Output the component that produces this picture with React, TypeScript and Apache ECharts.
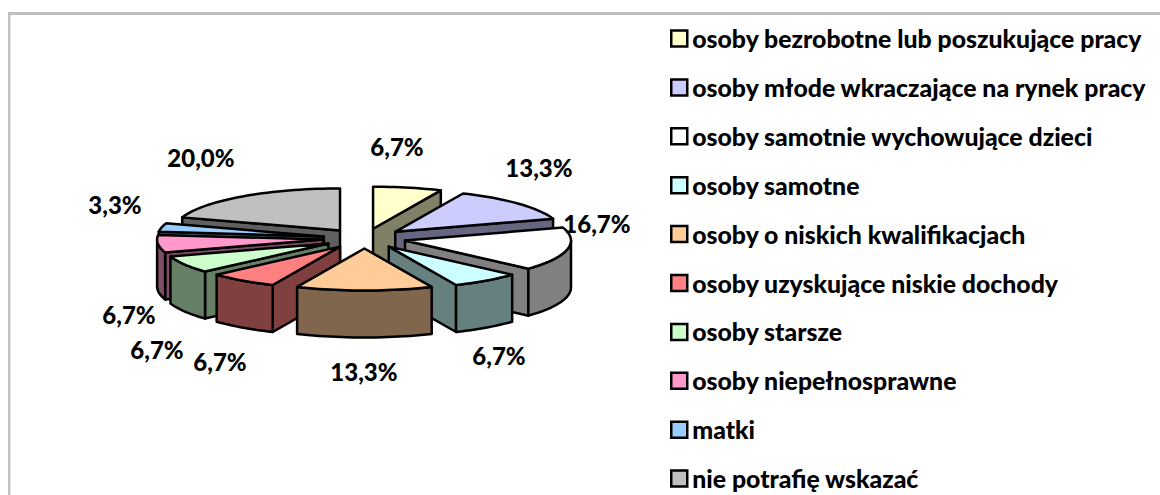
import React, { useEffect, useRef } from "react";
import * as echarts from "echarts";

const categories = [
  "osoby bezrobotne lub poszukujące pracy",
  "osoby młode wkraczające na rynek pracy",
  "osoby samotnie wychowujące dzieci",
  "osoby samotne",
  "osoby o niskich kwalifikacjach",
  "osoby uzyskujące niskie dochody",
  "osoby starsze",
  "osoby niepełnosprawne",
  "matki",
  "nie potrafię wskazać",
];
const shares = [6.7, 13.3, 16.7, 6.7, 13.3, 6.7, 6.7, 6.7, 3.3, 20.0];
const topColors = ["#FFFFCC", "#CCCCFF", "#FFFFFF", "#CCFFFF", "#FFCC99", "#FF8080", "#CCFFCC", "#FF99CC", "#99CCFF", "#C0C0C0"];
const sideColors = ["#808066", "#666680", "#808080", "#668080", "#80664D", "#804040", "#668066", "#804D66", "#4D6680", "#606060"];
const labelPositions: [number, number][] = [
  [397, 146], [539, 167], [597, 223], [499, 355], [364, 371],
  [220, 361], [157, 349], [129, 314], [115, 204], [201, 157],
];

const CX = 364.4, CY = 238.5, RX = 166, RY = 42, EXP_X = 41.5, EXP_Y = 10, DEPTH = 47;
const FONT = '"Lato", sans-serif';
const total = shares.reduce((a, b) => a + b, 0);
const rad = (d: number) => (d * Math.PI) / 180;

const slices = shares.map((v, i) => {
  const before = shares.slice(0, i).reduce((a, b) => a + b, 0);
  const s = (before / total) * 360;
  const e = ((before + v) / total) * 360;
  const m = (s + e) / 2;
  return { s, e, m, ax: CX + EXP_X * Math.sin(rad(m)), ay: CY - EXP_Y * Math.cos(rad(m)) };
});
const ranks = slices.map((_, i) => i).sort((a, b) => Math.cos(rad(slices[b].m)) - Math.cos(rad(slices[a].m)));

function arc(i: number, from: number, to: number, dy = 0): number[][] {
  const p = slices[i];
  const n = Math.max(2, Math.ceil((to - from) / 2));
  const out: number[][] = [];
  for (let k = 0; k <= n; k++) {
    const t = rad(from + ((to - from) * k) / n);
    out.push([p.ax + RX * Math.sin(t), p.ay - RY * Math.cos(t) + dy]);
  }
  return out;
}

function renderSlice(i: number) {
  const p = slices[i];
  const line = { stroke: "#000", lineWidth: 2.5, lineJoin: "round" };
  const poly = (points: number[][], fill: string) => ({ type: "polygon", shape: { points }, style: { ...line, fill } });
  const children: any[] = [];
  const radial = (a: number) => {
    const o = arc(i, a, a, 0)[0];
    return [[p.ax, p.ay], o, [o[0], o[1] + DEPTH], [p.ax, p.ay + DEPTH]];
  };
  if (Math.sin(rad(p.s)) < -1e-6) children.push(poly(radial(p.s), sideColors[i]));
  if (Math.sin(rad(p.e)) > 1e-6) children.push(poly(radial(p.e), sideColors[i]));
  const from = Math.max(p.s, 90), to = Math.min(p.e, 270);
  if (to > from) {
    children.push(poly([...arc(i, from, to), ...arc(i, from, to, DEPTH).reverse()], sideColors[i]));
  }
  children.push(poly([[p.ax, p.ay], ...arc(i, p.s, p.e)], topColors[i]));
  const [lx, ly] = labelPositions[i];
  children.push({
    type: "text",
    style: {
      text: shares[i].toFixed(1).replace(".", ",") + "%",
      x: lx, y: ly, fill: "#000", align: "center", verticalAlign: "middle",
      font: `900 24px ${FONT}`,
    },
  });
  return { type: "group", children };
}

export default function App() {
  const ref = useRef<HTMLDivElement>(null);
  useEffect(() => {
    document.body.style.margin = "0";
    const chart = echarts.init(ref.current!, null, { renderer: "svg" });
    chart.setOption({
      animation: false,
      backgroundColor: "#fff",
      graphic: [
        { type: "rect", shape: { x: 8, y: 12, width: 1152, height: 3 }, style: { fill: "#C0C0C0" } },
        { type: "rect", shape: { x: 8, y: 12, width: 2.5, height: 483 }, style: { fill: "#C0C0C0" } },
      ],
      legend: {
        orient: "vertical",
        left: 670,
        top: 26,
        padding: 0,
        height: 469,
        icon: "rect",
        itemWidth: 16,
        itemHeight: 16,
        itemGap: 23.9,
        data: categories,
        selectedMode: false,
        itemStyle: { borderColor: "#000", borderWidth: 2.5 },
        textStyle: { fontFamily: FONT, fontWeight: 900, fontSize: 24.8, lineHeight: 24, color: "#000" },
      },
      series: categories.map((name, i) => ({
        type: "custom",
        name,
        coordinateSystem: "none",
        z: 2 + ranks.indexOf(i),
        silent: true,
        itemStyle: { color: topColors[i] },
        data: [[shares[i]]],
        renderItem: () => renderSlice(i),
      })),
    });
    return () => chart.dispose();
  }, []);
  return <div ref={ref} style={{ width: 1160, height: 495, overflow: "hidden" }} />;
}
